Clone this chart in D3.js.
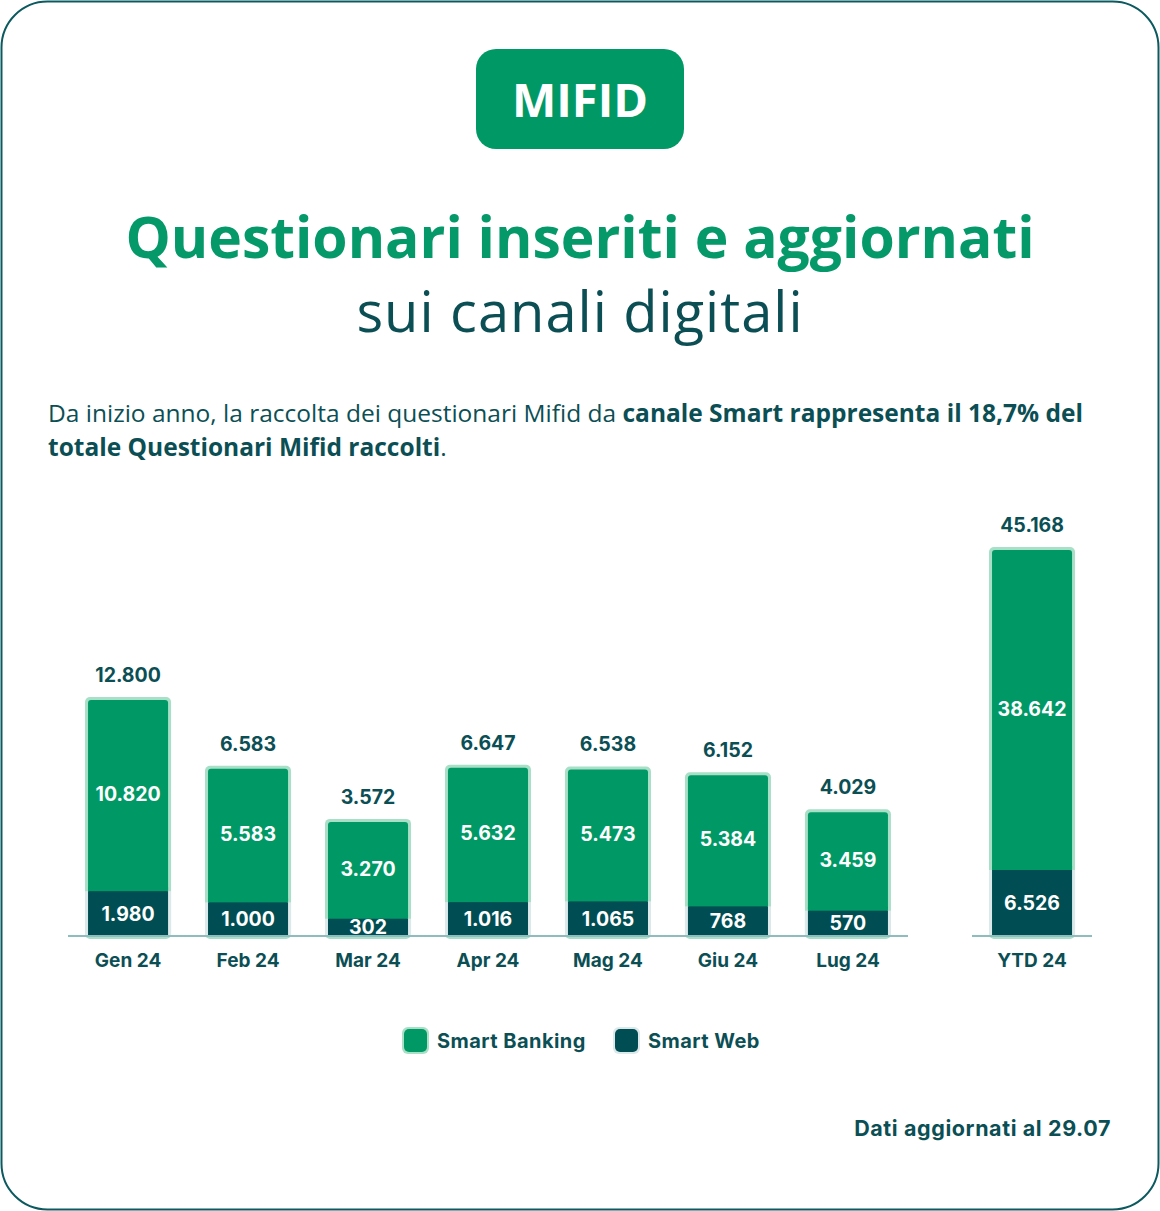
<!DOCTYPE html>
<html>
<head>
<meta charset="utf-8">
<script src="https://cdn.jsdelivr.net/npm/d3@7"></script>
<style>
  body { margin: 0; background: #fff; }
  svg { display: block; }
</style>
</head>
<body>
<div id="chart"></div>
<script>
// data
var months = ["Gen 24", "Feb 24", "Mar 24", "Apr 24", "Mag 24", "Giu 24", "Lug 24"];
var smartBanking = [10820, 5583, 3270, 5632, 5473, 5384, 3459];
var smartWeb = [1980, 1000, 302, 1016, 1065, 768, 570];
var monthTotals = [12800, 6583, 3572, 6647, 6538, 6152, 4029];
var ytdLabel = "YTD 24";
var ytdBanking = 38642;
var ytdWeb = 6526;
var ytdTotal = 45168;
var seriesNames = ["Smart Banking", "Smart Web"];

var GREEN = "#009966",
    GREEN_EDGE = "#a8dfc7",
    DARK = "#004e53",
    DARK_EDGE = "#dce9ea",
    TEXT = "#0b4f55",
    TITLE_GREEN = "#05996a",
    AXIS = "#8fbcbe";

var W = 1160, H = 1211;
var fmt = function(v) { return d3.format(",")(v).replace(/,/g, "."); };

var svg = d3.select("#chart").append("svg")
  .attr("width", W).attr("height", H);

// frame
svg.append("rect")
  .attr("x", 1.5).attr("y", 1.5).attr("width", W - 3).attr("height", H - 3)
  .attr("rx", 46).attr("ry", 46)
  .attr("fill", "#fff").attr("stroke", "#0c5a5f").attr("stroke-width", 2);

// badge
svg.append("rect")
  .attr("x", 476).attr("y", 49).attr("width", 208).attr("height", 100)
  .attr("rx", 20).attr("fill", GREEN);
svg.append("text")
  .attr("x", 580).attr("y", 117)
  .attr("text-anchor", "middle")
  .attr("font-family", "'Open Sans', sans-serif")
  .attr("font-weight", 700).attr("font-size", 47)
  .attr("fill", "#fff")
  .text("MIFID");

// titles
svg.append("text")
  .attr("x", 580).attr("y", 258)
  .attr("text-anchor", "middle")
  .attr("font-family", "'Open Sans', sans-serif")
  .attr("font-weight", 700).attr("font-size", 57)
  .attr("fill", TITLE_GREEN)
  .text("Questionari inseriti e aggiornati");
svg.append("text")
  .attr("x", 580).attr("y", 332)
  .attr("text-anchor", "middle")
  .attr("font-family", "'Open Sans', sans-serif")
  .attr("font-weight", 400).attr("font-size", 56)
  .attr("letter-spacing", 1)
  .attr("fill", TEXT)
  .text("sui canali digitali");

// paragraph
var p1 = svg.append("text")
  .attr("x", 48).attr("y", 422)
  .attr("font-family", "'Open Sans', sans-serif")
  .attr("font-size", 24.5).attr("fill", TEXT);
p1.append("tspan").text("Da inizio anno, la raccolta dei questionari Mifid da ");
p1.append("tspan").attr("font-weight", 700).text("canale Smart rappresenta il 18,7% del");
var p2 = svg.append("text")
  .attr("x", 48).attr("y", 456)
  .attr("font-family", "'Open Sans', sans-serif")
  .attr("font-size", 24.5).attr("fill", TEXT);
p2.append("tspan").attr("font-weight", 700).text("totale Questionari Mifid raccolti");
p2.append("tspan").text(".");

// chart
var baseY = 936;
var labels = months.concat([ytdLabel]);
var data = labels.map(function(d, i) {
  var m = i < months.length;
  return {
    label: d,
    banking: m ? smartBanking[i] : ytdBanking,
    web: m ? smartWeb[i] : ytdWeb,
    total: m ? monthTotals[i] : ytdTotal,
    ytd: !m
  };
});

var x = d3.scaleBand()
  .domain(months)
  .range([68, 908])
  .paddingInner(0.283)
  .paddingOuter(0.142);
var xYtd = d3.scaleBand()
  .domain([ytdLabel])
  .range([972, 1092])
  .paddingInner(0.283)
  .paddingOuter(0.142);
var xPos = function(d) { return d.ytd ? xYtd(d.label) : x(d.label); };
var bw = x.bandwidth();

// compressed height scales (the bars are not drawn to a linear scale)
var yTotal = d3.scaleSymlog().constant(2500)
  .domain([0, d3.max(data, function(d) { return d.total; })])
  .range([baseY, baseY - 389]);
var hWeb = d3.scaleSymlog().constant(200)
  .domain([0, d3.max(data, function(d) { return d.web; })])
  .range([0, 66]);

var g = svg.append("g");
var bars = g.selectAll("g.bar").data(data).enter().append("g").attr("class", "bar");

// light outline of whole bar
bars.append("rect")
  .attr("x", function(d) { return xPos(d); })
  .attr("y", function(d) { return yTotal(d.total); })
  .attr("width", bw)
  .attr("height", function(d) { return baseY - yTotal(d.total) + 3; })
  .attr("rx", 5)
  .attr("fill", GREEN_EDGE);
// light outline of web segment
bars.append("rect")
  .attr("x", function(d) { return xPos(d); })
  .attr("y", function(d) { return baseY - hWeb(d.web); })
  .attr("width", bw)
  .attr("height", function(d) { return hWeb(d.web); })
  .attr("fill", DARK_EDGE);
// banking segment
bars.append("rect")
  .attr("x", function(d) { return xPos(d) + 3; })
  .attr("y", function(d) { return yTotal(d.total) + 3; })
  .attr("width", bw - 6)
  .attr("height", function(d) { return (baseY - hWeb(d.web)) - yTotal(d.total) - 2; })
  .attr("rx", 3)
  .attr("fill", GREEN);
bars.append("rect")
  .attr("x", function(d) { return xPos(d) + 3; })
  .attr("y", function(d) { return baseY - hWeb(d.web) - 4; })
  .attr("width", bw - 6)
  .attr("height", 4)
  .attr("fill", GREEN);
// web segment
bars.append("rect")
  .attr("x", function(d) { return xPos(d) + 3; })
  .attr("y", function(d) { return baseY - hWeb(d.web); })
  .attr("width", bw - 6)
  .attr("height", function(d) { return hWeb(d.web); })
  .attr("fill", DARK);

var numFont = "Inter, 'DejaVu Sans', sans-serif";
function styleLabel(sel, size) {
  return sel.attr("font-family", numFont).attr("font-weight", 700)
    .attr("font-size", size).attr("letter-spacing", 0);
}
// totals
styleLabel(bars.append("text"), 19.5)
  .attr("x", function(d) { return xPos(d) + bw / 2; })
  .attr("y", function(d) { return yTotal(d.total) - 15; })
  .attr("text-anchor", "middle")
  .attr("fill", TEXT)
  .text(function(d) { return fmt(d.total); });
// banking values
styleLabel(bars.append("text"), 19.5)
  .attr("x", function(d) { return xPos(d) + bw / 2; })
  .attr("y", function(d) { return (yTotal(d.total) + baseY - hWeb(d.web)) / 2 + 7; })
  .attr("text-anchor", "middle")
  .attr("fill", "#fff")
  .text(function(d) { return fmt(d.banking); });
// web values
styleLabel(bars.append("text"), 19.5)
  .attr("x", function(d) { return xPos(d) + bw / 2; })
  .attr("y", function(d) { return Math.min(baseY - hWeb(d.web) / 2 + 7, baseY - 1); })
  .attr("text-anchor", "middle")
  .attr("fill", "#fff")
  .text(function(d) { return fmt(d.web); });

// baselines and category labels
[[x, 68, 908], [xYtd, 972, 1092]].forEach(function(s) {
  var ax = svg.append("g")
    .attr("transform", "translate(0," + baseY + ")")
    .call(d3.axisBottom(s[0]).tickSize(0).tickPadding(18));
  ax.select(".domain").remove();
  ax.append("line")
    .attr("x1", s[1]).attr("x2", s[2])
    .attr("stroke", AXIS).attr("stroke-width", 2);
  styleLabel(ax.selectAll(".tick text"), 19)
    .attr("fill", TEXT);
});

// legend
var legend = svg.append("g").attr("transform", "translate(402,1027)");
var legItems = legend.selectAll("g").data(seriesNames).enter().append("g")
  .attr("transform", function(d, i) { return "translate(" + (i * 211) + ",0)"; });
legItems.append("rect")
  .attr("width", 27).attr("height", 27).attr("rx", 6)
  .attr("fill", function(d, i) { return i ? DARK_EDGE : GREEN_EDGE; });
legItems.append("rect")
  .attr("x", 2).attr("y", 2).attr("width", 23).attr("height", 23).attr("rx", 5)
  .attr("fill", function(d, i) { return i ? DARK : GREEN; });
styleLabel(legItems.append("text"), 20)
  .attr("x", 35).attr("y", 21)
  .attr("letter-spacing", 0.45)
  .attr("fill", TEXT)
  .text(function(d) { return d; });

// footer
styleLabel(svg.append("text"), 21.5)
  .attr("x", 1111).attr("y", 1136)
  .attr("text-anchor", "end")
  .attr("letter-spacing", 0.6)
  .attr("fill", TEXT)
  .text("Dati aggiornati al 29.07");
</script>
</body>
</html>
